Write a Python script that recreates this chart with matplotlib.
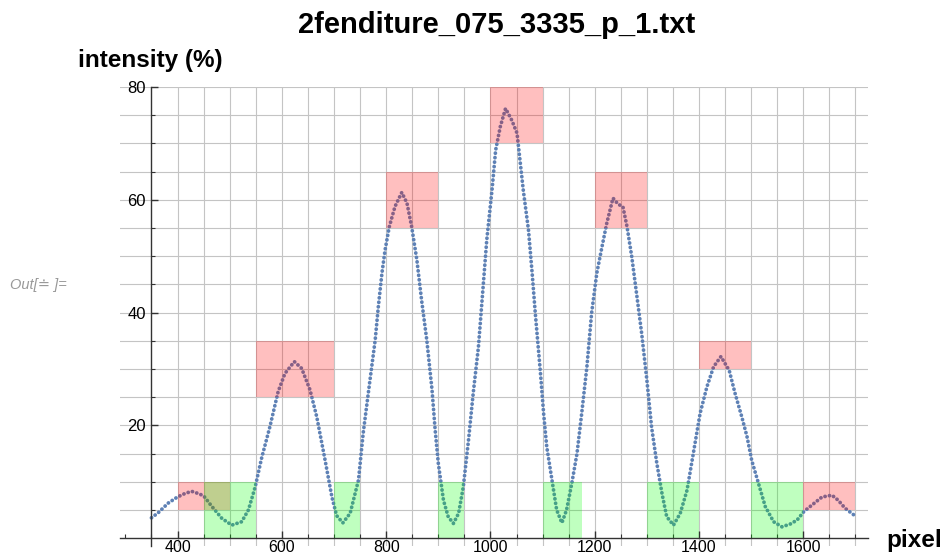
import matplotlib
matplotlib.use("Agg")
import matplotlib.pyplot as plt
from matplotlib.patches import Rectangle
from matplotlib.ticker import FixedLocator, NullFormatter

plt.rcParams['font.family'] = ['Liberation Sans', 'DejaVu Sans']

# ---- data ----
pixel = [350, 363, 382, 400, 414, 427, 440, 450, 466, 485, 504, 523, 536, 549, 561,
         577, 593, 606, 624, 638, 654, 667, 683, 696, 705, 717, 731, 747, 756, 769,
         779, 785, 792, 798, 806, 817, 830, 840, 849, 859, 868, 878, 888, 894, 900,
         910, 919, 929, 939, 948, 958, 967, 977, 985, 993, 1003, 1010, 1019, 1029,
         1041, 1051, 1056, 1063, 1073, 1080, 1086, 1096, 1102, 1108, 1118, 1127,
         1137, 1146, 1156, 1166, 1175, 1185, 1194, 1204, 1214, 1223, 1235, 1245,
         1254, 1262, 1271, 1281, 1290, 1300, 1309, 1319, 1329, 1338, 1351, 1364,
         1377, 1389, 1402, 1415, 1428, 1442, 1458, 1469, 1482, 1492, 1501, 1514,
         1527, 1543, 1559, 1575, 1588, 1601, 1617, 1636, 1655, 1667, 1680, 1697]
intensity = [3.6, 4.5, 6.2, 7.3, 7.9, 8.3, 7.9, 7.5, 5.6, 3.5, 2.3, 2.9, 5.0, 9.1, 14.1,
             19.7, 26.0, 29.2, 31.3, 30.1, 26.3, 21.5, 13.8, 7.3, 4.0, 2.7, 4.4, 10.3, 18.6, 28.0,
             35.1, 41.0, 47.0, 51.1, 55.2, 58.8, 61.3, 59.4, 55.2, 49.3, 42.2, 35.1, 26.3, 19.2, 13.3,
             6.7, 3.8, 2.6, 4.4, 9.1, 17.4, 25.7, 33.9, 43.4, 52.9, 61.7, 68.8, 73.0, 76.2,
             74.1, 71.8, 67.6, 61.7, 54.6, 47.0, 39.9, 29.2, 22.1, 16.2, 10.3, 5.0,
             2.7, 5.0, 9.7, 15.0, 22.1, 30.4, 39.9, 47.0, 51.7, 55.8, 60.3, 59.2,
             58.8, 55.2, 49.9, 42.8, 36.3, 28.0, 19.7, 13.3, 7.9, 3.8, 2.3, 4.4,
             8.5, 15.0, 22.1, 26.8, 30.4, 32.2, 29.7, 25.7, 21.5, 18.0, 13.8, 9.7,
             5.6, 2.9, 2.0, 2.5, 3.2, 4.7, 5.9, 7.3, 7.6, 6.7, 5.3, 4.1]

# peak regions (red) and minimum regions (green): x0, x1, y0, y1
red_x0 = [400, 550, 800, 1000, 1200, 1400, 1600]
red_x1 = [500, 700, 900, 1100, 1300, 1500, 1700]
red_y0 = [5, 25, 55, 70, 55, 30, 5]
red_y1 = [10, 35, 65, 80, 65, 35, 10]
green_x0 = [450, 700, 900, 1100, 1300, 1500]
green_x1 = [550, 750, 950, 1175, 1400, 1600]
green_y0 = [0, 0, 0, 0, 0, 0]
green_y1 = [10, 10, 10, 10, 10, 10]

x_major = [400, 600, 800, 1000, 1200, 1400, 1600]
y_major = [20, 40, 60, 80]

title = "2fenditure_075_3335_p_1.txt"

# ---- figure ----
W, H = 943, 556
fig = plt.figure(figsize=(W / 100, H / 100), dpi=100)
ax = fig.add_axes([120 / W, 1 - 546 / H, 748 / W, 459 / H])
ax.set_xlim(289.7, 1724)
ax.set_ylim(-1.4, 80)

# grid
for gx in range(400, 1701, 50):
    ax.axvline(gx, color='#c4c4c4', lw=0.8, zorder=0)
for gy in range(5, 81, 5):
    ax.axhline(gy, color='#c4c4c4', lw=0.8, zorder=0)

# data points
ax.plot(pixel, intensity, color='#5e81b5', lw=2.7, linestyle=(0, (0.05, 1.15)),
        dash_capstyle='round', solid_capstyle='round', zorder=2)

# regions
for x0, x1, y0, y1 in zip(red_x0, red_x1, red_y0, red_y1):
    ax.add_patch(Rectangle((x0, y0), x1 - x0, y1 - y0, facecolor='red', alpha=0.25,
                           edgecolor='none', zorder=3))
for x0, x1, y0, y1 in zip(green_x0, green_x1, green_y0, green_y1):
    ax.add_patch(Rectangle((x0, y0), x1 - x0, y1 - y0, facecolor='#00ff00', alpha=0.25,
                           edgecolor='none', zorder=3))

# axes
for s in ['top', 'right']:
    ax.spines[s].set_visible(False)
ax.spines['bottom'].set_position(('data', 0))
ax.spines['left'].set_position(('data', 350))
for s in ['bottom', 'left']:
    ax.spines[s].set_color('#333333')
    ax.spines[s].set_linewidth(1.0)
    ax.spines[s].set_zorder(4)

ax.xaxis.set_major_locator(FixedLocator(x_major))
ax.xaxis.set_minor_locator(FixedLocator([v for v in range(300, 1701, 50) if v not in x_major]))
ax.yaxis.set_major_locator(FixedLocator(y_major))
ax.yaxis.set_minor_locator(FixedLocator([v for v in range(5, 80, 5) if v not in y_major]))
ax.yaxis.set_minor_formatter(NullFormatter())
ax.xaxis.set_minor_formatter(NullFormatter())
ax.tick_params(which='major', direction='in', length=5, width=1, color='#333333',
               labelsize=12)
ax.tick_params(which='minor', direction='in', length=3, width=0.8, color='#333333')
ax.tick_params(axis='x', which='major', pad=1.5, labelsize=11.5)
ax.tick_params(axis='y', which='major', pad=4)

fig.text(497 / W, 1 - 25 / H, title, ha='center', va='center', fontsize=21, fontweight='bold')
fig.text(78 / W, 1 - 60 / H, "intensity (%)", ha='left', va='center', fontsize=17.5, fontweight='bold')
fig.text(886 / W, 1 - 541 / H, "pixel", ha='left', va='center', fontsize=17.5, fontweight='bold')
fig.text(10 / W, 1 - 285 / H, "Out[\u2250 ]=", ha='left', va='center', fontsize=10.5,
         style='italic', color='#999999')

fig.savefig("out.png", dpi=100)
